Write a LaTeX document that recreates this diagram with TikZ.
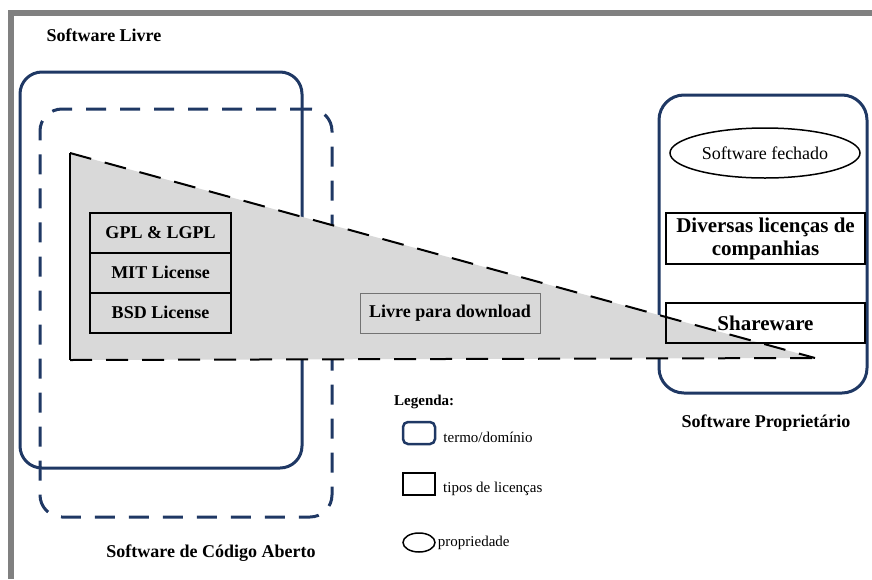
\documentclass[tikz,border=0pt]{standalone}
\usepackage{fontspec}
\setmainfont{Liberation Serif}
\usetikzlibrary{positioning,shapes.geometric}

\definecolor{navy}{RGB}{31,56,100}
\definecolor{trigray}{RGB}{217,217,217}
\definecolor{framegray}{RGB}{128,128,128}

\newcommand\lblsize{\fontsize{18}{21}\selectfont}
\newcommand\boxsize{\fontsize{21}{23}\selectfont}
\newcommand\legsize{\fontsize{15}{17}\selectfont}

\tikzset{
  dombox/.style={draw=navy, line width=3pt, rounded corners=22pt, inner sep=0pt},
  lbl/.style={font=\bfseries\lblsize, inner sep=1pt},
  licbox/.style={draw, line width=2pt, fill=trigray, minimum width=141pt,
    minimum height=40pt, inner sep=0pt, outer sep=0pt, font=\bfseries\lblsize},
  freebox/.style={draw=black!55, line width=0.8pt, fill=trigray, minimum width=180pt,
    minimum height=40pt, inner sep=0pt, font=\bfseries\lblsize},
  propbox/.style={draw, line width=2pt, minimum width=199pt, minimum height=40pt,
    inner sep=0pt, align=center, font=\bfseries\boxsize},
  propoval/.style={draw, ellipse, line width=1.5pt, minimum width=190pt,
    minimum height=50pt, inner sep=0pt, font=\lblsize},
  legtxt/.style={font=\legsize, inner sep=1pt},
}

\begin{document}
\begin{tikzpicture}[x=1pt,y=-1pt]
\useasboundingbox (0,0) rectangle (872,579);
% moldura
\fill[framegray] (8,10) rectangle (872,16);
\fill[framegray] (8,10) rectangle (14,579);

% dominios
\node[dombox, minimum width=282pt, minimum height=396pt] (livre) at (161,270) {};
\node[dombox, dash pattern=on 20pt off 14pt, minimum width=292pt,
  minimum height=408pt] (aberto) at (186,313) {};
\node[dombox, rounded corners=25pt, minimum width=208pt, minimum height=298pt] (prop) at (763,244) {};

\node[lbl] (livrelbl) at (104,35) {Software Livre};
\node[lbl] (abertolbl) at (211,553) {Software de Código Aberto};
\node[lbl] (proplbl) at (766,423) {Software Proprietário};

% triangulo
\coordinate (t1) at (70,153);
\coordinate (t2) at (70,360);
\coordinate (t3) at (815,358);
\fill[trigray] (t1) -- (t3) -- (t2) -- cycle;
\draw[line width=2pt] (t1) -- (t2);
\draw[line width=2pt, dash pattern=on 22pt off 14pt] (t1) -- (t3) (t2) -- (t3);

% licencas
\node[licbox] (gpl) at (160.5,232.5) {GPL \& LGPL};
\node[licbox, below=0pt of gpl] (mit) {MIT License};
\node[licbox, below=0pt of mit] (bsd) {BSD License};

\node[freebox] (free) at (450,313) {Livre para download};

% proprietario
\node[propoval] (fechado) at (765,153) {Software fechado};
\node[propbox, minimum height=51pt] (div) at (765.5,238.5) {Diversas licenças de\\companhias};
\node[propbox] (share) at (765.5,323) {Shareware};

% legenda
\node[lbl, font=\bfseries\legsize, anchor=west] (leg) at (393,402) {Legenda:};
\node[dombox, line width=2.5pt, rounded corners=5pt, minimum width=32pt,
  minimum height=22pt] (legdom) at (419,433) {};
\node[legtxt, right=6pt of legdom, yshift=-4pt] (legdomtxt) {termo/domínio};
\node[draw, line width=2pt, minimum width=32pt, minimum height=22pt,
  inner sep=0pt] (leglic) at (419,484) {};
\node[legtxt, right=6pt of leglic, yshift=-5pt] (leglictxt) {tipos de licenças};
\node[draw, ellipse, line width=1.5pt, minimum width=32pt, minimum height=19pt,
  inner sep=0pt] (legprop) at (419,542.5) {};
\node[legtxt, right=1pt of legprop] (legproptxt) {propriedade};
\end{tikzpicture}
\end{document}
